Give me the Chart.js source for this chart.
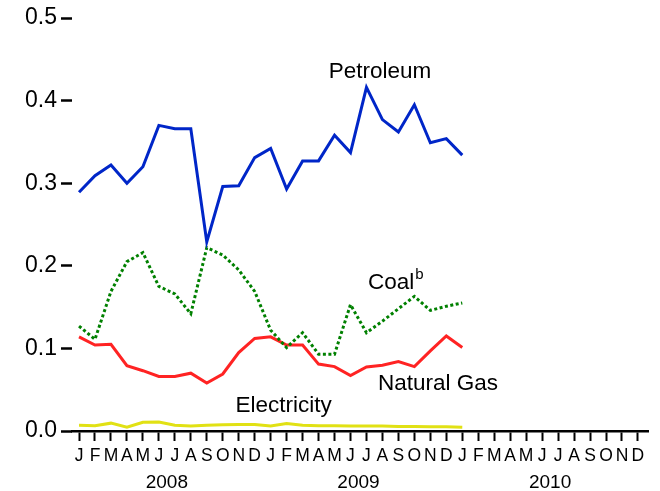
<!DOCTYPE html>
<html>
<head>
<meta charset="utf-8">
<script src="https://cdn.jsdelivr.net/npm/chart.js@4"></script>
<style>
  html, body { margin: 0; padding: 0; background: #fff; }
  #wrap { width: 660px; height: 491px; }
</style>
</head>
<body>
<div id="wrap"><canvas id="energyChart"></canvas></div>
<script>
// monthly values, Jan 2008 .. Jan 2010
const monthLetters = ["J", "F", "M", "A", "M", "J", "J", "A", "S", "O", "N", "D"];
const years = ["2008", "2009", "2010"];
const petroleum = [0.289, 0.309, 0.322, 0.300, 0.320, 0.370, 0.366, 0.366, 0.229, 0.296, 0.297, 0.331,
    0.342, 0.293, 0.327, 0.327, 0.358, 0.337, 0.416, 0.377, 0.362, 0.395, 0.349, 0.354, 0.334];
const coal = [0.127, 0.111, 0.169, 0.205, 0.216, 0.175, 0.166, 0.142, 0.222, 0.213, 0.195, 0.169,
    0.122, 0.101, 0.119, 0.093, 0.093, 0.153, 0.119, 0.133, 0.148, 0.163, 0.146, 0.151, 0.155];
const naturalGas = [0.114, 0.104, 0.105, 0.079, 0.073, 0.066, 0.066, 0.070, 0.058, 0.069, 0.095, 0.112,
    0.114, 0.104, 0.104, 0.081, 0.078, 0.067, 0.0775, 0.0795, 0.084, 0.078, 0.097, 0.115, 0.101];
const electricity = [0.0069, 0.0065, 0.0095, 0.0045, 0.0105, 0.011, 0.0069, 0.006, 0.007, 0.0075, 0.008, 0.008,
    0.006, 0.009, 0.007, 0.0065, 0.0065, 0.006, 0.006, 0.006, 0.0055, 0.0055, 0.005, 0.005, 0.0045];
const yTicks = [0, 0.1, 0.2, 0.3, 0.4, 0.5];

const FONT = "'Liberation Sans', Arial, Helvetica, sans-serif";
const toPoints = (arr) => arr.map((v, i) => ({ x: i, y: v }));

// series labels, placed in data units (month index, value)
const seriesLabels = [
    { text: "Petroleum", x: 18.85, y: 0.435, align: "center" },
    { text: "Coal", sup: "b", x: 18.1, y: 0.179, align: "left" },
    { text: "Natural Gas", x: 18.72, y: 0.057, align: "left" },
    { text: "Electricity", x: 9.8, y: 0.031, align: "left" },
];

const labelPlugin = {
    id: "labels",
    afterDraw(chart) {
        const ctx = chart.ctx;
        const xs = chart.scales.x;
        const ys = chart.scales.y;
        ctx.save();
        ctx.fillStyle = "#000";
        ctx.textBaseline = "middle";
        seriesLabels.forEach((l) => {
            const px = xs.getPixelForValue(l.x);
            const py = ys.getPixelForValue(l.y);
            ctx.textAlign = l.align;
            ctx.font = "22.5px " + FONT;
            ctx.fillText(l.text, px, py);
            if (l.sup) {
                const w = ctx.measureText(l.text).width;
                ctx.textAlign = "left";
                ctx.font = "15px " + FONT;
                ctx.fillText(l.sup, px + w + 1, py - 8);
            }
        });
        // year labels under each block of months
        ctx.font = "19px " + FONT;
        ctx.textAlign = "center";
        years.forEach((y, i) => {
            ctx.fillText(y, xs.getPixelForValue(i * 12 + 5.5), chart.chartArea.bottom + 52);
        });
        ctx.restore();
    },
};

new Chart(document.getElementById("energyChart"), {
    type: "line",
    data: {
        datasets: [
            {
                label: "Petroleum",
                data: toPoints(petroleum),
                borderColor: "rgb(0, 38, 200)",
                borderWidth: 3,
                pointRadius: 0,
            },
            {
                label: "Coal",
                data: toPoints(coal),
                borderColor: "rgb(0, 128, 0)",
                borderWidth: 3,
                borderDash: [3, 2.5],
                pointRadius: 0,
            },
            {
                label: "Natural Gas",
                data: toPoints(naturalGas),
                borderColor: "rgb(255, 35, 35)",
                borderWidth: 3,
                pointRadius: 0,
            },
            {
                label: "Electricity",
                data: toPoints(electricity),
                borderColor: "rgb(225, 225, 20)",
                borderWidth: 3,
                pointRadius: 0,
            },
        ],
    },
    options: {
        responsive: true,
        maintainAspectRatio: false,
        animation: false,
        devicePixelRatio: 1,
        layout: { padding: { top: 18, right: 12, bottom: 0, left: 0 } },
        plugins: {
            legend: { display: false },
            tooltip: { enabled: false },
        },
        scales: {
            x: {
                type: "linear",
                min: -0.44,
                max: 35.63,
                afterBuildTicks: (axis) => {
                    axis.ticks = years.flatMap((y, yi) => monthLetters.map((m, mi) => ({ value: yi * 12 + mi })));
                },
                afterFit: (axis) => { axis.height = 60; },
                border: { display: true, color: "#000", width: 2.5 },
                grid: { drawOnChartArea: false, drawTicks: true, tickLength: 10, tickWidth: 2, color: "#000" },
                ticks: {
                    autoSkip: false,
                    maxRotation: 0,
                    padding: 5,
                    color: "#000",
                    font: { family: FONT, size: 17.5 },
                    callback: (v) => monthLetters[((v % 12) + 12) % 12],
                },
            },
            y: {
                min: 0,
                max: 0.5,
                afterBuildTicks: (axis) => {
                    axis.ticks = yTicks.map((v) => ({ value: v }));
                },
                afterFit: (axis) => { axis.width = 72; },
                border: { display: false },
                grid: { drawOnChartArea: false, drawTicks: true, tickLength: 11, tickWidth: 2.5, color: "#000" },
                ticks: {
                    padding: 4,
                    color: "#000",
                    font: { family: FONT, size: 23 },
                    callback: (v) => v.toFixed(1),
                },
            },
        },
    },
    plugins: [labelPlugin],
});
</script>
</body>
</html>
